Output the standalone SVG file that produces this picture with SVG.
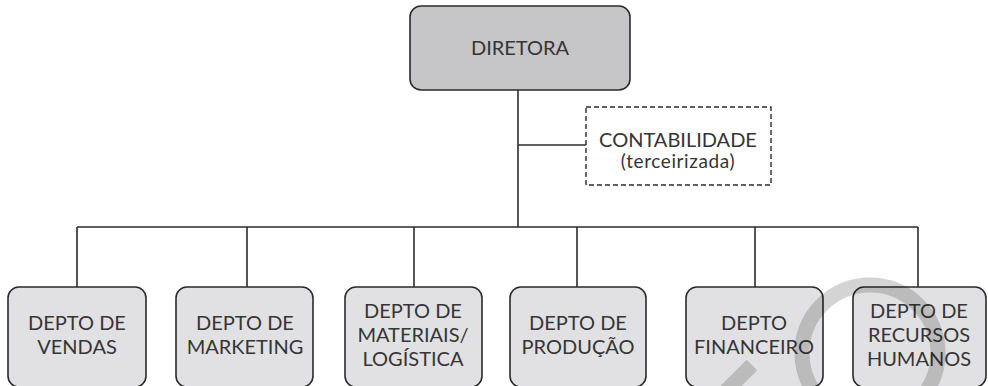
<svg xmlns="http://www.w3.org/2000/svg" width="988" height="386" viewBox="0 0 988 386">
<style>
.top{fill:#c6c6c8;stroke:#2b2b2b;stroke-width:1.6}
.dept{fill:#e1e1e3;stroke:#2b2b2b;stroke-width:1.6}
.dash{fill:#ffffff;stroke:#2b2b2b;stroke-width:1.4;stroke-dasharray:5 3}
.conn{stroke:#2b2b2b;stroke-width:1.6;fill:none}
text{font-family:Lato,"Noto Sans","Liberation Sans",sans-serif;fill:#353535;text-anchor:middle}
.t17{font-size:20px}
.t15{font-size:20px}
.t14{font-size:19px;letter-spacing:0.6px}
.wm{fill:none;stroke:#000;stroke-opacity:0.17;stroke-width:15}
</style>
<rect width="988" height="386" fill="#ffffff"/>
<g id="connectors">
<line class="conn" x1="518" y1="90" x2="518" y2="227"/>
<line class="conn" x1="518" y1="145" x2="586" y2="145"/>
<line class="conn" x1="77" y1="227" x2="918" y2="227"/>
<line class="conn" x1="77" y1="227" x2="77" y2="287"/>
<line class="conn" x1="247" y1="227" x2="247" y2="287"/>
<line class="conn" x1="414" y1="227" x2="414" y2="287"/>
<line class="conn" x1="577" y1="227" x2="577" y2="287"/>
<line class="conn" x1="755" y1="227" x2="755" y2="287"/>
<line class="conn" x1="918" y1="227" x2="918" y2="287"/>
</g>
<g id="diretora">
<rect class="top" x="410" y="6" width="220" height="84" rx="11"/>
<text class="t17" x="520" y="55">DIRETORA</text>
</g>
<g id="contabilidade">
<rect class="dash" x="586" y="107" width="185" height="78"/>
<text class="t15" x="678" y="147">CONTABILIDADE</text>
<text class="t14" x="678" y="168">(terceirizada)</text>
</g>
<g id="vendas">
<rect class="dept" x="8" y="287" width="138" height="100" rx="11"/>
<text class="t17" x="77" y="330">DEPTO DE</text>
<text class="t17" x="77" y="354">VENDAS</text>
</g>
<g id="marketing">
<rect class="dept" x="176" y="287" width="137" height="100" rx="11"/>
<text class="t17" x="245" y="330">DEPTO DE</text>
<text class="t17" x="245" y="354">MARKETING</text>
</g>
<g id="materiais">
<rect class="dept" x="345" y="287" width="137" height="100" rx="11"/>
<text class="t17" x="413" y="318">DEPTO DE</text>
<text class="t17" x="413" y="342">MATERIAIS/</text>
<text class="t17" x="413" y="366">LOGÍSTICA</text>
</g>
<g id="producao">
<rect class="dept" x="510" y="287" width="136" height="100" rx="11"/>
<text class="t17" x="578" y="330">DEPTO DE</text>
<text class="t17" x="578" y="354">PRODUÇÃO</text>
</g>
<g id="financeiro">
<rect class="dept" x="686" y="287" width="137" height="100" rx="11"/>
<text class="t17" x="754" y="330">DEPTO</text>
<text class="t17" x="754" y="354">FINANCEIRO</text>
</g>
<g id="rh">
<rect class="dept" x="853" y="287" width="133" height="100" rx="11"/>
<text class="t17" x="919" y="318">DEPTO DE</text>
<text class="t17" x="919" y="342">RECURSOS</text>
<text class="t17" x="919" y="366">HUMANOS</text>
</g>
<g id="watermark">
<circle class="wm" cx="870" cy="353" r="68"/>
<line class="wm" x1="722" y1="395" x2="752" y2="365"/>
</g>
</svg>
